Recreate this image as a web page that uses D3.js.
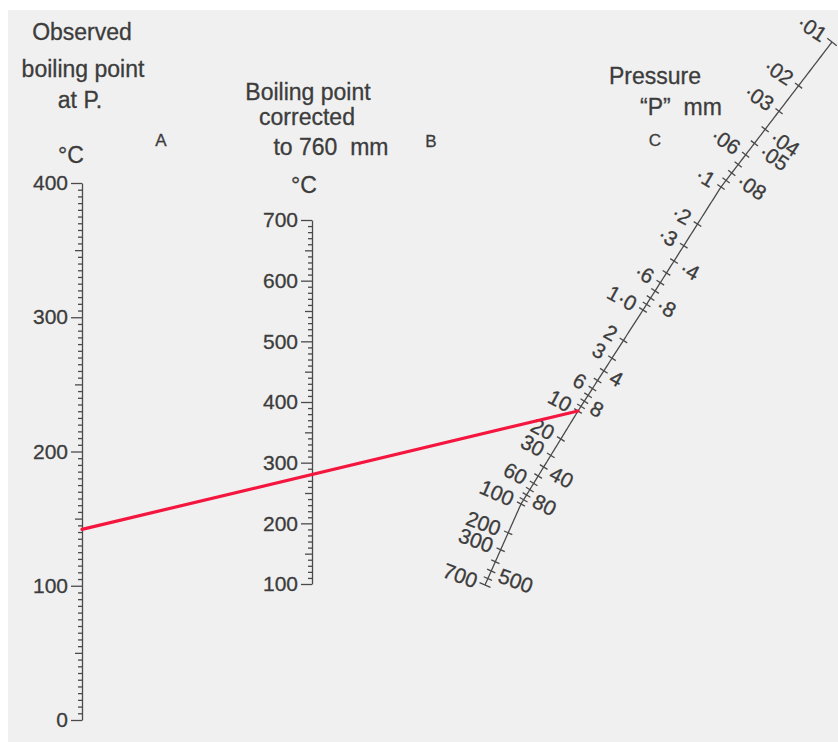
<!DOCTYPE html>
<html>
<head>
<meta charset="utf-8">
<script src="https://cdn.jsdelivr.net/npm/d3@7"></script>
<style>
  body { margin: 0; background: #fff; }
</style>
</head>
<body>
<svg></svg>
<script>
// --- data ---
// scale A: observed boiling point at P (°C)
const A_MAJOR = [0, 100, 200, 300, 400];
// scale B: boiling point corrected to 760 mm (°C)
const B_MAJOR = [100, 200, 300, 400, 500, 600, 700];
// scale C: pressure "P" in mm, labels on each side of the line
const C_LEFT = [
  [0.01, '·01'], [0.02, '·02'], [0.03, '·03'], [0.06, '·06'], [0.1, '·1'],
  [0.2, '·2'], [0.3, '·3'], [0.6, '·6'], [1, '1·0'], [2, '2'], [3, '3'],
  [6, '6'], [10, '10'], [20, '20'], [30, '30'], [60, '60'], [100, '100'],
  [200, '200'], [300, '300'], [700, '700']
];
const C_RIGHT = [
  [0.04, '·04'], [0.05, '·05'], [0.08, '·08'], [0.4, '·4'], [0.8, '·8'],
  [4, '4'], [8, '8'], [40, '40'], [80, '80'], [500, '500']
];
const C_DECADES = [0.01, 0.1, 1, 10, 100];
const C_MULTIPLES = [1, 2, 3, 4, 5, 6, 7, 8, 9];
const C_MIN = 0.01;
const C_MAX = 700;

// the example reading drawn in red
const READ_A = 142;
const READ_P = 10;

// --- layout ---
const WIDTH = 838;
const HEIGHT = 742;
const A_X = 82;
const B_X = 312;
const TEXT = '#3c3c3c';
const FONT = '"Liberation Sans", Arial, Helvetica, sans-serif';

// the pressure scale is a slightly curved, non-uniform log line
const C_LOG = [-2, -1, 0, 1, 2, Math.log10(700)];
const C_PX = [832, 721, 643, 578, 521, 485];
const C_PY = [42, 187, 310, 411, 504, 585];

const svg = d3.select('svg').
attr('width', WIDTH).
attr('height', HEIGHT).
attr('font-family', FONT);

svg.append('rect').
attr('x', 8).
attr('y', 10).
attr('width', WIDTH - 8).
attr('height', HEIGHT - 10).
attr('fill', '#f0f0f0');

/* --SCALES-- */
const aY = d3.scaleLinear().domain([0, 400]).range([720, 183]);
const bY = d3.scaleLinear().domain([100, 700]).range([584, 220]);
const cX = d3.scaleLinear().domain(C_LOG).range(C_PX);
const cY = d3.scaleLinear().domain(C_LOG).range(C_PY);

const cPoint = p => [cX(Math.log10(p)), cY(Math.log10(p))];
// unit normal pointing to the right side of the pressure line
const cNormal = p => {
  const l = Math.log10(p), e = 0.12;
  const dx = cX(l + e) - cX(l - e);
  const dy = cY(l + e) - cY(l - e);
  const len = Math.hypot(dx, dy);
  return [dy / len, -dx / len];
};
const cAngle = p => {
  const n = cNormal(p);
  return Math.atan2(n[1], n[0]) * 180 / Math.PI - 4;
};

/* --LINEAR AXES-- */
const drawLinear = (x, scale, majors, step) => {
  const [lo, hi] = scale.domain();
  const minors = d3.range(lo, hi + 0.01, step).filter(v => majors.indexOf(v) < 0);
  const g = svg.append('g').attr('transform', `translate(${x},0)`);

  g.append('g').
  call(d3.axisLeft(scale).tickValues(minors.filter(v => v % 50 != 0)).tickSize(4).tickFormat('')).
  call(s => s.select('.domain').remove());

  g.append('g').
  call(d3.axisLeft(scale).tickValues(minors.filter(v => v % 50 == 0)).tickSize(7).tickFormat('')).
  call(s => s.select('.domain').remove());

  g.append('g').
  call(d3.axisLeft(scale).tickValues(majors).tickSize(11).tickSizeOuter(0).tickPadding(3)).
  attr('font-size', 21).
  attr('font-family', FONT);

  g.attr('color', '#4a4a4a');
  g.selectAll('text').
  attr('fill', TEXT).
  attr('stroke', TEXT).
  attr('stroke-width', 0.3);
  g.selectAll('line, path').attr('stroke-width', 1.3);
};

drawLinear(A_X, aY, A_MAJOR, 5);
drawLinear(B_X, bY, B_MAJOR, 10);

/* --PRESSURE LINE-- */
const cSamples = d3.range(C_LOG[0], C_LOG[C_LOG.length - 1], 0.02).
concat([C_LOG[C_LOG.length - 1]]).
map(l => [cX(l), cY(l)]);

const cG = svg.append('g').attr('stroke', '#4a4a4a').attr('stroke-width', 1.3);

cG.append('path').
attr('d', d3.line()(cSamples)).
attr('fill', 'none');

const cTicks = [];
C_DECADES.forEach(d => C_MULTIPLES.forEach(m => {
  const v = +(d * m).toPrecision(3);
  if (v >= C_MIN && v <= C_MAX) cTicks.push(v);
}));

const half = d => d == C_MIN || d == C_MAX ? 6 : 4.5;

cG.selectAll('line.tick').
data(cTicks).
join('line').
attr('class', 'tick').
attr('x1', d => cPoint(d)[0] - half(d) * cNormal(d)[0]).
attr('y1', d => cPoint(d)[1] - half(d) * cNormal(d)[1]).
attr('x2', d => cPoint(d)[0] + half(d) * cNormal(d)[0]).
attr('y2', d => cPoint(d)[1] + half(d) * cNormal(d)[1]);

const cLabels = (list, side) => {
  svg.append('g').
  selectAll('text').
  data(list).
  join('text').
  attr('transform', d => {
    const p = cPoint(d[0]), n = cNormal(d[0]);
    return `translate(${p[0] + side * 9 * n[0]},${p[1] + side * 9 * n[1]}) rotate(${cAngle(d[0])})`;
  }).
  attr('text-anchor', side < 0 ? 'end' : 'start').
  attr('dy', '.36em').
  attr('font-size', 21).
  attr('fill', TEXT).
  attr('stroke', TEXT).
  attr('stroke-width', 0.3).
  text(d => d[1]);
};
cLabels(C_LEFT, -1);
cLabels(C_RIGHT, 1);

/* --RED READING LINE-- */
svg.append('line').
attr('x1', A_X).
attr('y1', aY(READ_A)).
attr('x2', cPoint(READ_P)[0]).
attr('y2', cPoint(READ_P)[1]).
attr('stroke', '#f5163f').
attr('stroke-width', 3.2).
attr('stroke-linecap', 'round');

/* --TEXT-- */
const label = (str, x, y, size) => {
  svg.append('text').
  attr('x', x).
  attr('y', y).
  attr('text-anchor', 'middle').
  attr('font-size', size).
  attr('fill', TEXT).
  attr('stroke', TEXT).
  attr('stroke-width', 0.3).
  attr('xml:space', 'preserve').
  text(str);
};

label('Observed', 82, 40, 23);
label('boiling point', 83, 77, 23);
label('at P.', 80, 108, 23);
label('°C', 71, 163, 23);
label('A', 161, 146, 17);

label('Boiling point', 308, 100, 23);
label('corrected', 307, 125, 23);
label('to 760  mm', 331, 155, 23);
label('°C', 304, 193, 23);
label('B', 431, 147, 17);

label('Pressure', 655, 84, 23);
label('“P”  mm', 681, 115, 23);
label('C', 655, 146, 17);
</script>
</body>
</html>
